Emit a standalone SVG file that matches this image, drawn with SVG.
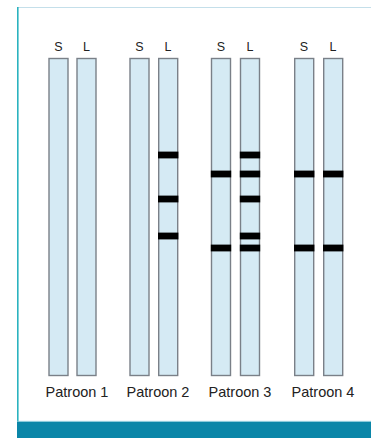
<svg xmlns="http://www.w3.org/2000/svg" width="371" height="438" viewBox="0 0 371 438">
  <style>
    .strip { fill: #d5eaf4; stroke: #7a8088; stroke-width: 1.4; }
    .band { fill: #000; }
    .lane { font-family: "Liberation Sans", Arial, sans-serif; font-size: 12.5px; fill: #222; text-anchor: middle; }
    .cap { font-family: "Liberation Sans", Arial, sans-serif; font-size: 14.5px; fill: #222; text-anchor: middle; }
  </style>
  <defs>
    <rect id="strip" class="strip" x="0" y="0" width="19" height="317"/>
    <rect id="band" class="band" x="-0.7" y="-3.4" width="20.4" height="6.8"/>
  </defs>

  <!-- frame -->
  <rect x="0" y="0" width="371" height="438" fill="#ffffff"/>
  <line x1="17" y1="7.5" x2="371" y2="7.5" stroke="#c4dfea" stroke-width="1.2"/>
  <line x1="17.8" y1="7" x2="17.8" y2="422" stroke="#2bb3bf" stroke-width="1.6"/>
  <rect x="17" y="421.5" width="354" height="16.5" fill="#0a86a8"/>
  <line x1="17" y1="421.3" x2="371" y2="421.3" stroke="#8fd0e0" stroke-width="0.8"/>

  <!-- pattern 1 -->
  <g id="patroon1">
    <text class="lane" x="58.5" y="51">S</text>
    <text class="lane" x="86.5" y="51">L</text>
    <use href="#strip" x="49" y="58.5"/>
    <use href="#strip" x="77" y="58.5"/>
    <text class="cap" x="77" y="397">Patroon 1</text>
  </g>

  <!-- pattern 2 -->
  <g id="patroon2">
    <text class="lane" x="139.5" y="51">S</text>
    <text class="lane" x="168" y="51">L</text>
    <use href="#strip" x="130" y="58.5"/>
    <use href="#strip" x="158.7" y="58.5"/>
    <use href="#band" x="158.7" y="155"/>
    <use href="#band" x="158.7" y="199"/>
    <use href="#band" x="158.7" y="236"/>
    <text class="cap" x="158" y="397">Patroon 2</text>
  </g>

  <!-- pattern 3 -->
  <g id="patroon3">
    <text class="lane" x="221" y="51">S</text>
    <text class="lane" x="250" y="51">L</text>
    <use href="#strip" x="211.5" y="58.5"/>
    <use href="#strip" x="240.5" y="58.5"/>
    <use href="#band" x="211.5" y="174"/>
    <use href="#band" x="211.5" y="248"/>
    <use href="#band" x="240.5" y="155"/>
    <use href="#band" x="240.5" y="174"/>
    <use href="#band" x="240.5" y="199"/>
    <use href="#band" x="240.5" y="236"/>
    <use href="#band" x="240.5" y="248"/>
    <text class="cap" x="240" y="397">Patroon 3</text>
  </g>

  <!-- pattern 4 -->
  <g id="patroon4">
    <text class="lane" x="304" y="51">S</text>
    <text class="lane" x="333" y="51">L</text>
    <use href="#strip" x="294.7" y="58.5"/>
    <use href="#strip" x="323.7" y="58.5"/>
    <use href="#band" x="294.7" y="174"/>
    <use href="#band" x="294.7" y="248"/>
    <use href="#band" x="323.7" y="174"/>
    <use href="#band" x="323.7" y="248"/>
    <text class="cap" x="323" y="397">Patroon 4</text>
  </g>

  <!-- no connectors in this figure -->
  <g id="connectors"/>
</svg>
